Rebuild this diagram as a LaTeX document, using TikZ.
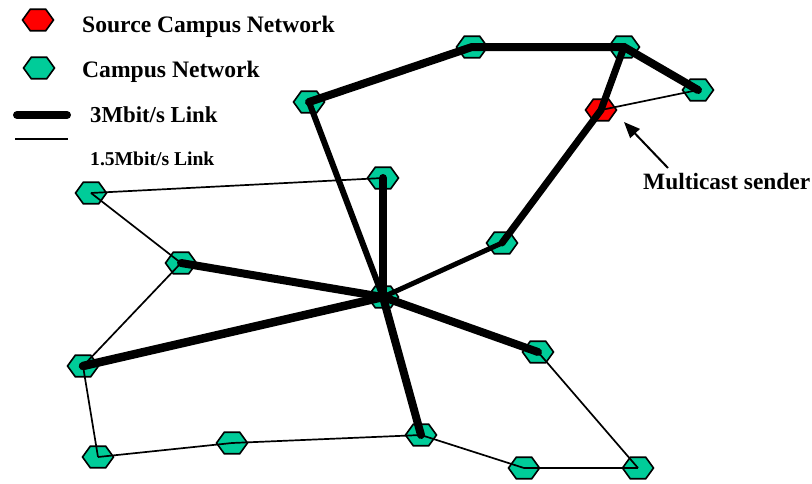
\documentclass[tikz,border=0pt]{standalone}
\usepackage{fontspec}
\setmainfont{Liberation Serif}
\usetikzlibrary{shapes.geometric,arrows.meta}
\definecolor{campus}{RGB}{0,204,153}
\definecolor{source}{RGB}{255,0,0}
\tikzset{
  hexnode/.style={regular polygon, regular polygon sides=6, draw=black,
    line width=1.6pt, fill=campus, minimum size=31pt, inner sep=0pt,
    yscale=0.8, transform shape},
  srcnode/.style={hexnode, fill=source},
  fastlink/.style={line width=8pt, line cap=round},
  slowlink/.style={line width=1.7pt},
  legendtext/.style={anchor=base west, inner sep=0pt, font=\bfseries\fontsize{23.6}{26}\selectfont},
  smalltext/.style={anchor=base west, inner sep=0pt, font=\bfseries\fontsize{19.6}{22}\selectfont}
}
\begin{document}
\begin{tikzpicture}[x=1pt,y=-1pt]
\useasboundingbox (0,0) rectangle (812,483);

% legend
\node[srcnode] (lsrc) at (38,20) {};
\node[hexnode] (lcamp) at (39,68) {};
\coordinate (lfa) at (17,115);
\coordinate (lfb) at (67,115);
\coordinate (lsa) at (15,139);
\coordinate (lsb) at (68,139);
\draw[fastlink] (lfa) -- (lfb);
\draw[slowlink] (lsa) -- (lsb);
\node[legendtext] (tsrc) at (82,32) {Source Campus Network};
\node[legendtext] (tcamp) at (82,77) {Campus Network};
\node[legendtext, font=\bfseries\fontsize{22.8}{26}\selectfont] (tfast) at (90,122) {3Mbit/s Link};
\node[smalltext] (tslow) at (90,165) {1.5Mbit/s Link};

% campus networks
\node[hexnode] (a) at (309,102) {};
\node[hexnode] (b) at (472,47) {};
\node[hexnode] (c) at (624,47) {};
\node[hexnode] (d) at (698,90) {};
\node[srcnode] (s) at (601,110) {};
\node[hexnode] (e) at (502,243) {};
\node[hexnode] (f) at (383,178) {};
\node[hexnode] (g) at (91,193) {};
\node[hexnode] (h) at (181,263) {};
\node[hexnode] (hub) at (383,297) {};
\node[hexnode] (i) at (83,366) {};
\node[hexnode] (j) at (538,352) {};
\node[hexnode] (k) at (98,457) {};
\node[hexnode] (l) at (232,443) {};
\node[hexnode] (m) at (421,435) {};
\node[hexnode] (n) at (524,468) {};
\node[hexnode] (o) at (638,468) {};

% 3 Mbit/s links
\draw[fastlink] (a.center) -- (b.center) -- (c.center) -- (d.center);
\draw[fastlink, line width=7pt] (c.center) -- (s.center) -- (e.center);
\draw[fastlink, line width=5pt] (e.center) -- (hub.center);
\draw[fastlink, line width=6pt] (hub.center) -- (a.center);
\draw[fastlink] (hub.center) -- (f.center);
\draw[fastlink] (hub.center) -- (h.center);
\draw[fastlink, line width=8.5pt] (hub.center) -- (i.center);
\draw[fastlink] (hub.center) -- (j.center);
\draw[fastlink] (hub.center) -- (m.center);

% 1.5 Mbit/s links
\draw[slowlink] (s.center) -- (d.center);
\draw[slowlink] (g.center) -- (f.center);
\draw[slowlink] (g.center) -- (h.center);
\draw[slowlink] (h.center) -- (i.center);
\draw[slowlink] (i.center) -- (k.center);
\draw[slowlink] (k.center) -- (l.center);
\draw[slowlink] (l.center) -- (m.center);
\draw[slowlink] (m.center) -- (n.center);
\draw[slowlink] (n.center) -- (o.center);
\draw[slowlink] (o.center) -- (j.center);

% sender label
\node[legendtext, font=\bfseries\fontsize{23.4}{26}\selectfont] (sender) at (643,189) {Multicast sender};
\coordinate (tail) at (668,168);
\coordinate (tip) at (624,122);
\draw[line width=2pt, -{Triangle[length=16pt,width=13pt]}] (tail) -- (tip);
\end{tikzpicture}
\end{document}
